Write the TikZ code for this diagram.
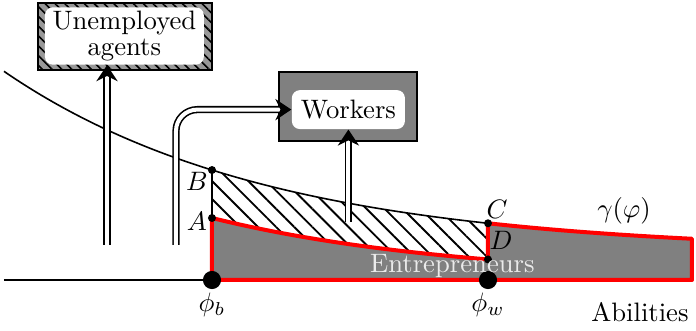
\documentclass[tikz,border=0pt]{standalone}
\usepackage{amsmath, amssymb}
\usepackage{tikz}
\usetikzlibrary{calc, arrows.meta, patterns.meta}

\begin{document}
\begin{tikzpicture}[x=15pt, y=15pt,
    declare function={g(\t)=0.7+2.049*exp(-0.152*\t); h(\t)=1.55*exp(-0.16*\t);},
    dblarrow/.style={double, double distance=1.5pt, line width=0.6pt, -{Stealth[length=6pt, width=8pt]}},
    outerbox/.style={draw, line width=0.8pt},
    innerbox/.style={fill=white, rounded corners=3pt, inner xsep=2pt, inner ysep=1pt}]
    \useasboundingbox (-5.3,-1.275) rectangle (12.1,7);

    % 1. Vùng gạch chéo
    \fill[pattern={Lines[angle=-45, distance=4.8pt, line width=0.7pt]}]
        plot[domain=0:6.9, samples=40] (\x, {g(\x)}) -- plot[domain=6.9:0, samples=40] (\x, {h(\x)}) -- cycle;

    % 2. Trục và đường cong gamma
    \draw[line width=0.6pt] (-5.2,0) -- (12,0);
    \draw[line width=0.6pt, samples=80, domain=-5.2:6.9] plot (\x, {g(\x)});
    \coordinate (B) at (0,{g(0)});
    \coordinate (A) at (0,{h(0)});
    \coordinate (C) at (6.9,{g(6.9)});
    \coordinate (D) at (6.9,{h(6.9)});
    \draw[line width=0.6pt] (B) -- (A);

    % 3. Vùng doanh nhân
    \draw[red, line width=1.5pt, fill=gray, line join=round]
        (0,0) -- (A) -- plot[domain=0:6.9, samples=40] (\x, {h(\x)}) -- (C)
        -- plot[domain=6.9:12, samples=40] (\x, {g(\x)}) -- (12,0) -- cycle;

    % 4. Các hộp
    \node[outerbox, fill=gray, minimum width=51.75pt, minimum height=25.9pt] (workersbox) at (3.4,4.34) {};
    \node[innerbox, minimum width=42.4pt, minimum height=14.6pt] (workers) at (3.41,4.26) {Workers};
    \node[outerbox, preaction={fill=gray!80}, pattern={Lines[angle=-45, distance=2.6pt, line width=0.6pt]},
        minimum width=65.25pt, minimum height=25.1pt] (unempbox) at (-2.175,6.09) {};
    \node[innerbox, align=center, minimum width=59.6pt, minimum height=21.5pt] (unemp) at (-2.19,6.1) {Unemployed\\[-2.6pt]agents};

    % 5. Mũi tên
    \coordinate (u0) at (-2.625,0.875);
    \coordinate (w0) at (-0.9,0.875);
    \coordinate (e0) at (3.41,1.45);
    \draw[dblarrow] (u0) -- (u0 |- unemp.south);
    \draw[dblarrow, rounded corners=8pt] (w0) |- (workers.west);
    \draw[dblarrow] (e0) -- (workers.south);

    % 6. Các điểm
    \foreach \p in {A,B,C,D} {
        \fill (\p) circle (1.5pt);
    }
    \fill (0,0) circle (3.4pt);
    \fill (6.9,0) circle (3.4pt);

    % 7. Nhãn
    \node (labB) at (-0.375,2.475) {$B$};
    \node (labA) at (-0.375,1.475) {$A$};
    \node (labC) at (7.125,1.775) {$C$};
    \node (labD) at (7.225,0.98) {$D$};
    \node (gam) at (10.3,1.725) {$\gamma(\varphi)$};
    \node (phib) at (0,-0.625) {$\phi_b$};
    \node (phiw) at (6.9,-0.625) {$\phi_w$};
    \node (abil) at (10.7,-0.8) {Abilities};
    \node[white!92!black, anchor=base] (entre) at (6.01,0.175) {Entrepreneurs};
\end{tikzpicture}
\end{document}
